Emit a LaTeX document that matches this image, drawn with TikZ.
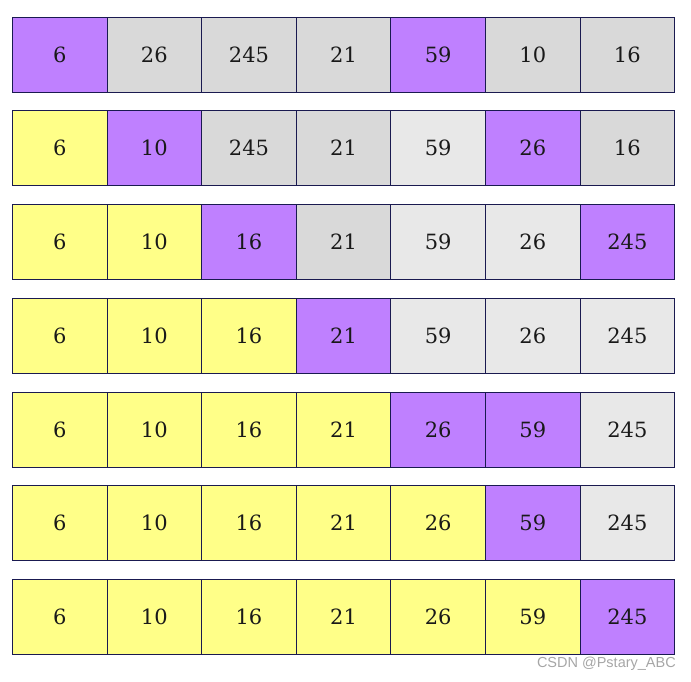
\documentclass[tikz,border=0pt]{standalone}
\usepackage{fontspec}
\setmainfont{DejaVu Serif}
\newfontfamily\wmfont{Liberation Sans}
\definecolor{cP}{HTML}{BF80FF}
\definecolor{cG}{HTML}{D9D9D9}
\definecolor{cL}{HTML}{E8E8E8}
\definecolor{cY}{HTML}{FFFF88}
\definecolor{edge}{HTML}{1A1A50}
\begin{document}
\begin{tikzpicture}[x=1pt,y=-1pt,
  cell/.style={draw=edge,line width=0.8pt,minimum width=94.7pt,minimum height=75pt,inner sep=0pt,anchor=north west,font=\fontsize{21}{23}\selectfont,text=black!90}]
\useasboundingbox (0,0) rectangle (691,681);
\def\rowtop{{17,110,204,298,392,485,579}}
\foreach \r/\vals/\cols in {
 0/{6,26,245,21,59,10,16}/{cP,cG,cG,cG,cP,cG,cG},
 1/{6,10,245,21,59,26,16}/{cY,cP,cG,cG,cL,cP,cG},
 2/{6,10,16,21,59,26,245}/{cY,cY,cP,cG,cL,cL,cP},
 3/{6,10,16,21,59,26,245}/{cY,cY,cY,cP,cL,cL,cL},
 4/{6,10,16,21,26,59,245}/{cY,cY,cY,cY,cP,cP,cL},
 5/{6,10,16,21,26,59,245}/{cY,cY,cY,cY,cY,cP,cL},
 6/{6,10,16,21,26,59,245}/{cY,cY,cY,cY,cY,cY,cP}}{
  \foreach \v [count=\c from 0] in \vals {
    \foreach \col [count=\k from 0] in \cols {
      \ifnum\k=\c
        \pgfmathsetmacro{\yy}{\rowtop[\r]}
        \node[cell,fill=\col] (n\r-\c) at ({12+94.6*\c},\yy) {\v};
      \fi
    }
  }
}
\node[anchor=east,inner sep=0pt,font=\wmfont\fontsize{14.5}{16}\selectfont,text=black!35] (wm) at (676,664) {CSDN @Pstary\_ABC};
\end{tikzpicture}
\end{document}
